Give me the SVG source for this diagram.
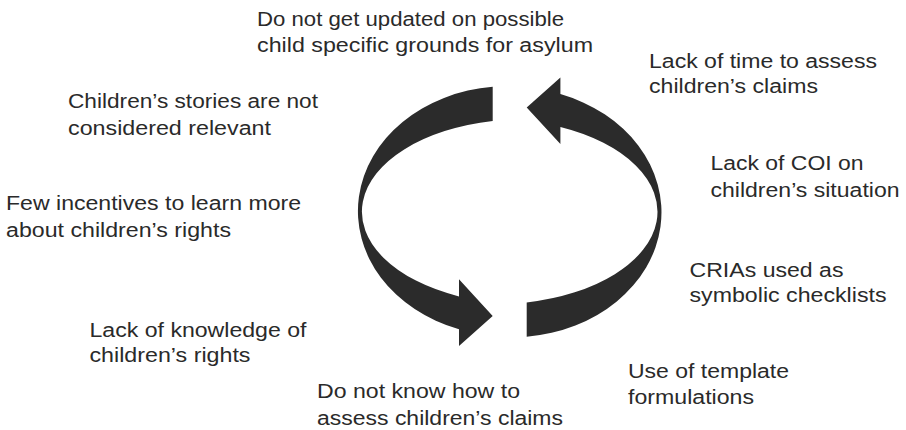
<svg xmlns="http://www.w3.org/2000/svg" width="906" height="430" viewBox="0 0 906 430">
  <style>
    .lbl { font-family: "Liberation Sans", Arial, Helvetica, sans-serif; font-size: 20px; fill: #2a2a2a; }
    .arrow { fill: #2b2b2b; stroke: none; }
  </style>
  <rect width="906" height="430" fill="#ffffff"/>

  <g id="connectors">
    <path class="arrow" d="M 492.7 86.7 A 149.7 125 0 0 0 459 329.3 L 459 346 L 492.7 316 L 459 279.3 L 459 296.4 A 162.5 92.5 0 0 1 492.7 121 Z"/>
    <path class="arrow" d="M 526.7 336.7 A 149.7 125 0 0 0 560.4 94.1 L 560.4 77.4 L 526.7 107.4 L 560.4 144.1 L 560.4 127 A 162.5 92.5 0 0 1 526.7 302.4 Z"/>
  </g>

  <g id="n-updated">
    <text class="lbl" x="257" y="25.7" textLength="307" lengthAdjust="spacingAndGlyphs">Do not get updated on possible</text>
    <text class="lbl" x="257" y="51.7" textLength="336" lengthAdjust="spacingAndGlyphs">child specific grounds for asylum</text>
  </g>
  <g id="n-time">
    <text class="lbl" x="649" y="67.7" textLength="228" lengthAdjust="spacingAndGlyphs">Lack of time to assess</text>
    <text class="lbl" x="649" y="93.3" textLength="169" lengthAdjust="spacingAndGlyphs">children’s claims</text>
  </g>
  <g id="n-stories">
    <text class="lbl" x="68" y="108.3" textLength="250" lengthAdjust="spacingAndGlyphs">Children’s stories are not</text>
    <text class="lbl" x="68" y="135" textLength="203" lengthAdjust="spacingAndGlyphs">considered relevant</text>
  </g>
  <g id="n-coi">
    <text class="lbl" x="710.5" y="170" textLength="153" lengthAdjust="spacingAndGlyphs">Lack of COI on</text>
    <text class="lbl" x="710.5" y="196.7" textLength="189" lengthAdjust="spacingAndGlyphs">children’s situation</text>
  </g>
  <g id="n-incentives">
    <text class="lbl" x="6" y="210" textLength="295" lengthAdjust="spacingAndGlyphs">Few incentives to learn more</text>
    <text class="lbl" x="6" y="236.7" textLength="225" lengthAdjust="spacingAndGlyphs">about children’s rights</text>
  </g>
  <g id="n-crias">
    <text class="lbl" x="689.5" y="276.7" textLength="154" lengthAdjust="spacingAndGlyphs">CRIAs used as</text>
    <text class="lbl" x="689.5" y="302.3" textLength="197" lengthAdjust="spacingAndGlyphs">symbolic checklists</text>
  </g>
  <g id="n-knowledge">
    <text class="lbl" x="89.5" y="336.7" textLength="217" lengthAdjust="spacingAndGlyphs">Lack of knowledge of</text>
    <text class="lbl" x="89.5" y="362.3" textLength="161" lengthAdjust="spacingAndGlyphs">children’s rights</text>
  </g>
  <g id="n-template">
    <text class="lbl" x="628" y="378.3" textLength="161" lengthAdjust="spacingAndGlyphs">Use of template</text>
    <text class="lbl" x="628" y="404" textLength="126" lengthAdjust="spacingAndGlyphs">formulations</text>
  </g>
  <g id="n-assess">
    <text class="lbl" x="317" y="398.3" textLength="203" lengthAdjust="spacingAndGlyphs">Do not know how to</text>
    <text class="lbl" x="317" y="425" textLength="246" lengthAdjust="spacingAndGlyphs">assess children’s claims</text>
  </g>
</svg>
